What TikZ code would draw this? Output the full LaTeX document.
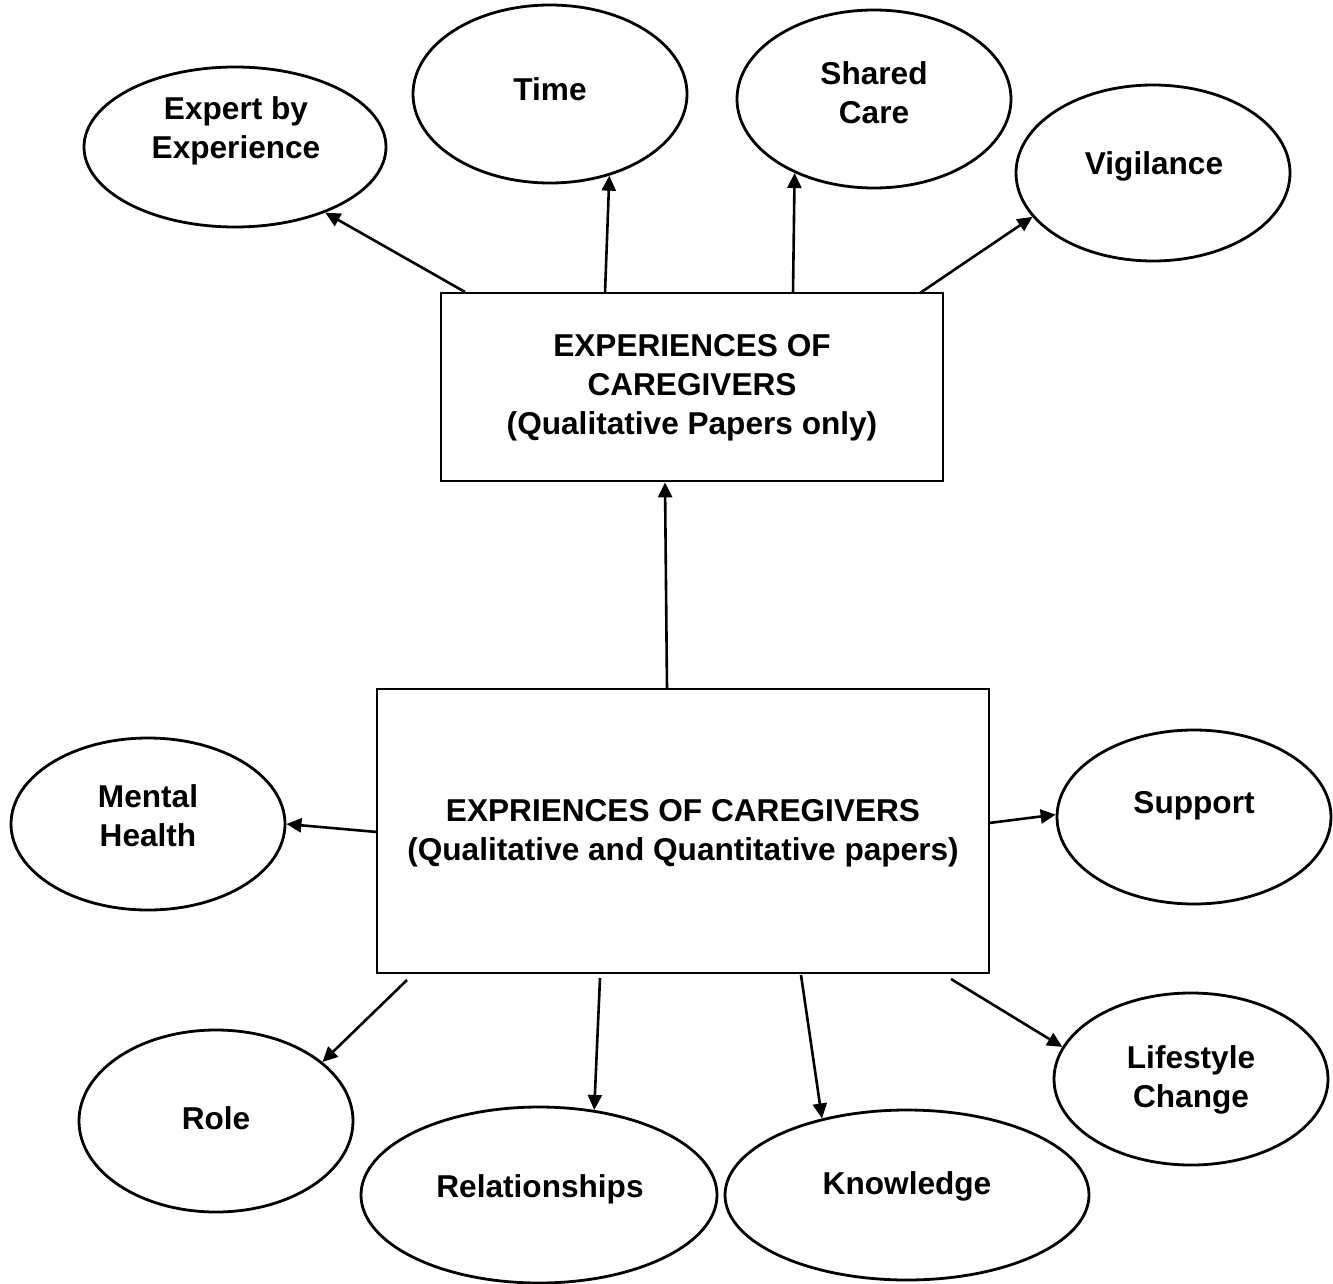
\documentclass[tikz,border=0pt]{standalone}
\usepackage{fontspec}
\setmainfont{Liberation Sans}
\usetikzlibrary{shapes.geometric,arrows.meta}
\begin{document}
\begin{tikzpicture}[x=0.5pt,y=-0.5pt,
  oval/.style={ellipse,draw,line width=1.4pt,inner sep=0pt},
  boxnode/.style={rectangle,draw,line width=1.4pt,inner sep=0pt},
  lbl/.style={font=\fontsize{15.8}{19.5}\selectfont\bfseries,align=center,inner sep=0pt},
  arr/.style={line width=1.3pt,-{Triangle[length=7.5pt,width=7pt]}}]
\useasboundingbox[fill=white] (0,0) rectangle (1333,1284);
% ellipses
\node[oval,minimum width=151pt,minimum height=80pt] (exp) at (235,147) {};
\node[oval,minimum width=137pt,minimum height=89pt] (tim) at (550,94) {};
\node[oval,minimum width=137pt,minimum height=89pt] (sha) at (874,99) {};
\node[oval,minimum width=137pt,minimum height=88pt] (vig) at (1153,173) {};
\node[oval,minimum width=137pt,minimum height=86pt] (men) at (148,824) {};
\node[oval,minimum width=137pt,minimum height=87pt] (sup) at (1194,817) {};
\node[oval,minimum width=137pt,minimum height=91pt] (rol) at (216,1121) {};
\node[oval,minimum width=178pt,minimum height=88pt] (rel) at (539,1195) {};
\node[oval,minimum width=182pt,minimum height=85pt] (kno) at (907,1195) {};
\node[oval,minimum width=137pt,minimum height=86pt] (lif) at (1191,1079) {};
% boxes
\node[boxnode,minimum width=251pt,minimum height=94pt] (tb) at (692,387) {};
\node[boxnode,minimum width=306pt,minimum height=142pt] (bb) at (683,831) {};
% texts
\node[lbl] (expT) at (236,131) {Expert by\\Experience};
\node[lbl] (timT) at (550,89) {Time};
\node[lbl] (shaT) at (874,93) {Shared\\Care};
\node[lbl] (vigT) at (1154,166) {Vigilance};
\node[lbl] (menT) at (148,816) {Mental\\Health};
\node[lbl] (supT) at (1194,806) {Support};
\node[lbl] (rolT) at (216,1118) {Role};
\node[lbl] (relT) at (540,1189) {Relationships};
\node[lbl] (knoT) at (907,1186) {Knowledge};
\node[lbl] (lifT) at (1191,1080) {Lifestyle\\Change};
\node[lbl] (tbT) at (692,388) {EXPERIENCES OF\\CAREGIVERS\\(Qualitative Papers only)};
\node[lbl] (bbT) at (683,833) {EXPRIENCES OF CAREGIVERS\\(Qualitative and Quantitative papers)};
% start points
\coordinate (s1) at (465,292);
\coordinate (s2) at (605,293);
\coordinate (s3) at (793,293);
\coordinate (s4) at (920,293);
\coordinate (s5) at (667,689);
\coordinate (s6) at (377,832);
\coordinate (s7) at (989,823);
\coordinate (s8) at (407,980);
\coordinate (s9) at (600,978);
\coordinate (s10) at (801,975);
\coordinate (s11) at (951,979);
% arrows
\draw[arr] (s1) -- (exp.-36.5);
\draw[arr] (s2) -- (tim.-54.9);
\draw[arr] (s3) -- (sha.-137.3);
\draw[arr] (s4) -- (vig.-160);
\draw[arr] (s5) -- ([xshift=-13.5pt]tb.south);
\draw[arr] (s6) -- (men.0);
\draw[arr] (s7) -- (sup.179);
\draw[arr] (s8) -- (rol.29);
\draw[arr] (s9) -- (rel.57.4);
\draw[arr] (s10) -- (kno.138.8);
\draw[arr] (s11) -- (lif.166.4);
\end{tikzpicture}
\end{document}
